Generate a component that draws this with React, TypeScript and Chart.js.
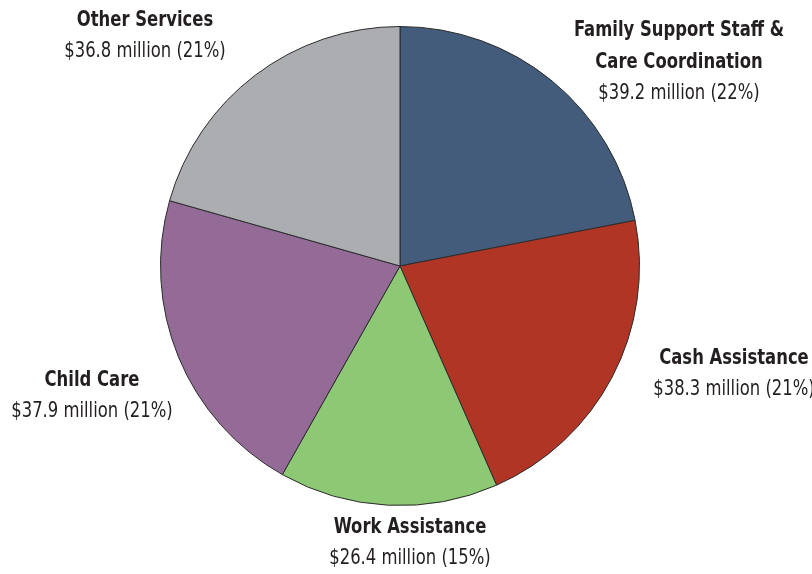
import React, { useEffect, useRef } from "react";
import { Chart, registerables } from "chart.js";

Chart.register(...registerables);

const categories = [
  ["Family Support Staff &", "Care Coordination"],
  ["Cash Assistance"],
  ["Work Assistance"],
  ["Child Care"],
  ["Other Services"],
];
const values = [39.2, 38.3, 26.4, 37.9, 36.8];
const valueLabels = [
  "$39.2 million (22%)",
  "$38.3 million (21%)",
  "$26.4 million (15%)",
  "$37.9 million (21%)",
  "$36.8 million (21%)",
];
const colors = ["#435c7b", "#b03525", "#8dc875", "#946b97", "#abadb0"];

// label anchor offsets relative to pie centre (px): centre x, first line middle y
const labelOffsets = [
  [279, -236],
  [334, 92],
  [10, 261],
  [-308, 114],
  [-255, -246],
];

const FONT = '"DejaVu Sans Condensed", "DejaVu Sans", sans-serif';
const SX = 0.83;

const labelPlugin = {
  id: "outerLabels",
  afterDraw(chart: any) {
    const ctx = chart.ctx;
    const arc = chart.getDatasetMeta(0).data[0];
    if (!arc) return;
    const cx = arc.x;
    const cy = arc.y;
    const lh = 32;
    categories.forEach((lines, i) => {
      const [ox, oy] = labelOffsets[i];
      let y = cy + oy;
      const x = cx + ox;
      ctx.save();
      ctx.translate(x, 0);
      ctx.scale(SX, 1);
      ctx.fillStyle = "#231f20";
      ctx.textAlign = "center";
      ctx.textBaseline = "middle";
      ctx.font = `bold 22px ${FONT}`;
      lines.forEach((l) => {
        ctx.fillText(l, 0, y);
        y += lh;
      });
      ctx.font = `22px ${FONT}`;
      ctx.fillText(valueLabels[i], 0, y - 1);
      ctx.restore();
    });
  },
};

export default function App() {
  const ref = useRef<HTMLCanvasElement>(null);
  useEffect(() => {
    document.body.style.margin = "0";
    const chart = new Chart(ref.current!, {
      type: "pie",
      data: {
        labels: categories.map((c) => c.join(" ")),
        datasets: [
          {
            data: values,
            backgroundColor: colors,
            borderColor: "#2b2b2b",
            borderWidth: 1,
          },
        ],
      },
      options: {
        animation: false,
        responsive: false,
        layout: { padding: { top: 26, bottom: 68, left: 0, right: 12 } },
        plugins: { legend: { display: false }, tooltip: { enabled: false } },
      },
      plugins: [labelPlugin],
    });
    return () => chart.destroy();
  }, []);
  return (
    <div style={{ width: 812, height: 574, background: "#fff" }}>
      <canvas ref={ref} width={812} height={574} />
    </div>
  );
}
